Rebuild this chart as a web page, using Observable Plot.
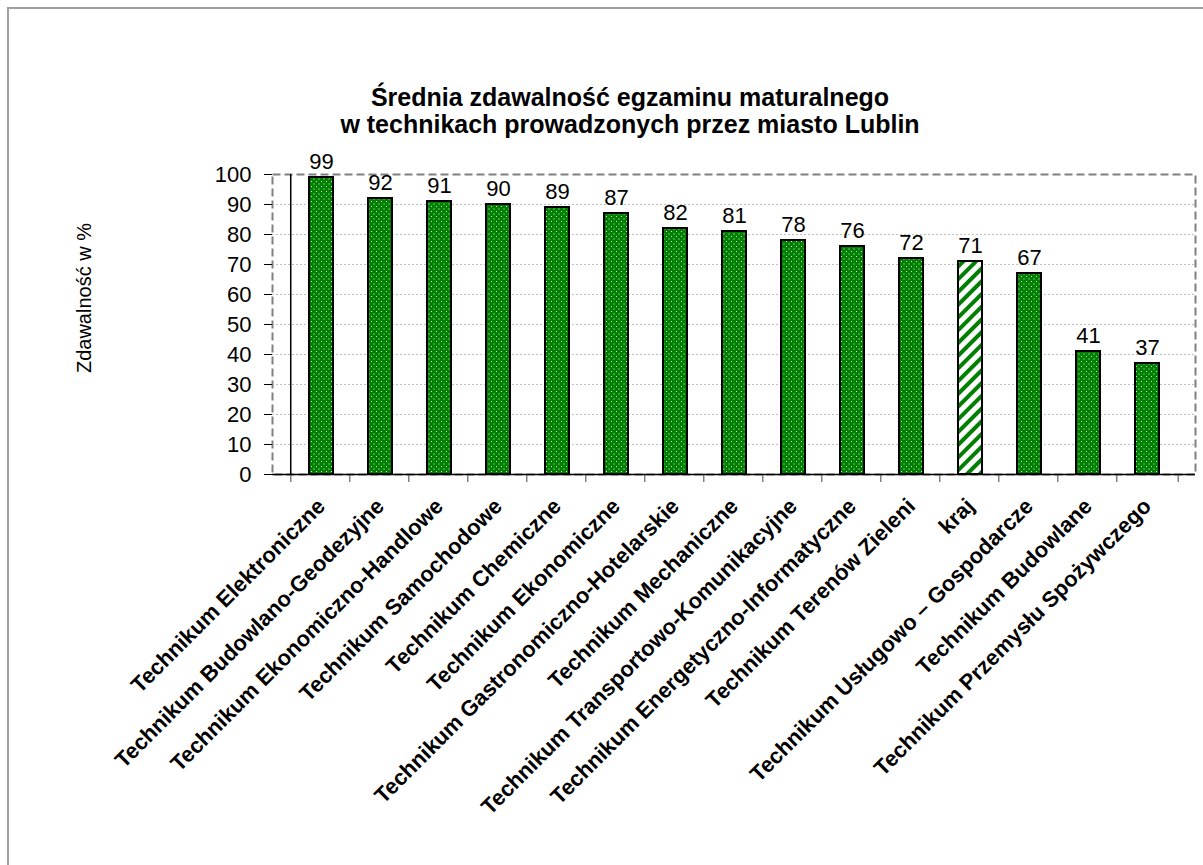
<!DOCTYPE html>
<html><head><meta charset="utf-8">
<script src="https://cdn.jsdelivr.net/npm/d3@7"></script>
<script src="https://cdn.jsdelivr.net/npm/@observablehq/plot@0.6"></script>
<style>
body{margin:0;background:#fff;font-family:"Liberation Sans",Arial,sans-serif;}
#wrap{position:relative;width:1203px;height:865px;overflow:hidden;background:#fff;}
#border{position:absolute;left:7px;top:7px;width:1400px;height:1000px;border-left:2px solid #a0a0a0;border-top:2px solid #a0a0a0;}
#chart{position:absolute;left:0;top:0;}
#title{position:absolute;left:0;width:1260px;top:84px;text-align:center;font-weight:bold;font-size:25px;line-height:27px;color:#000;}
#ylab{position:absolute;left:84px;top:298px;transform:translate(-50%,-50%) rotate(-90deg);font-size:20px;white-space:nowrap;color:#000;}
</style></head><body>
<div id="wrap">
<div id="border"></div>
<div id="chart"></div>
<div id="title">Średnia zdawalność egzaminu maturalnego<br>w technikach prowadzonych przez miasto Lublin</div>
<div id="ylab">Zdawalność w %</div>
</div>
<script>
const schools = [
  "Technikum Elektroniczne",
  "Technikum Budowlano-Geodezyjne",
  "Technikum Ekonomiczno-Handlowe",
  "Technikum Samochodowe",
  "Technikum Chemiczne",
  "Technikum Ekonomiczne",
  "Technikum Gastronomiczno-Hotelarskie",
  "Technikum Mechaniczne",
  "Technikum Transportowo-Komunikacyjne",
  "Technikum Energetyczno-Informatyczne",
  "Technikum Terenów Zieleni",
  "kraj",
  "Technikum Usługowo – Gospodarcze",
  "Technikum Budowlane",
  "Technikum Przemysłu Spożywczego"
];
const values = [99, 92, 91, 90, 89, 87, 82, 81, 78, 76, 72, 71, 67, 41, 37];
const nationalLabel = "kraj";
const yTicks = [0, 10, 20, 30, 40, 50, 60, 70, 80, 90, 100];

const data = schools.map((s, i) => ({school: s, value: values[i]}));
const W = 1203, H = 865, mL = 272, mR = 8, mT = 174, mB = 391;
const step = (W - mL - mR) / schools.length;
const font = "Liberation Sans, Arial, sans-serif";

const chart = Plot.plot({
  width: W, height: H,
  marginLeft: mL, marginRight: mR, marginTop: mT, marginBottom: mB,
  style: {fontFamily: font, background: "transparent", overflow: "visible", color: "#000"},
  x: {domain: schools, padding: 1 - 25 / step, label: null},
  y: {domain: [0, 100], label: null},
  marks: [
    Plot.gridY(yTicks.filter(t => t > 0 && t < 100), {stroke: "#c0c0c0", strokeOpacity: 1, strokeDasharray: "2,2"}),
    Plot.frame({stroke: "#808080", strokeDasharray: "8,4", strokeWidth: 2}),
    Plot.axisY(yTicks, {tickSize: 8, tickPadding: 13, fontSize: 22, label: null, stroke: "#000"}),
    Plot.axisX({tickSize: 0, tickRotate: -45, fontSize: 22, fontWeight: "bold", tickPadding: 28, dx: 0, label: null}),
    Plot.ruleX([schools[0]], {x: d => d, dx: -step / 2, y1: 0, y2: 100, stroke: "#000", strokeWidth: 1.5}),
    Plot.ruleX(schools, {x: d => d, dx: -step / 2, y1: 0, y2: 0, insetBottom: -8, stroke: "#808080", strokeWidth: 1.5}),
    Plot.ruleX([schools[schools.length - 1]], {x: d => d, dx: step / 2, y1: 0, y2: 0, insetBottom: -8, stroke: "#808080", strokeWidth: 1.5}),
    Plot.ruleY([0], {stroke: "#000", strokeWidth: 1.5}),
    Plot.barY(data.filter(d => d.school !== nationalLabel), {x: "school", y: "value", fill: "#008000", stroke: "#000", strokeWidth: 2, className: "bars-dots"}),
    Plot.barY(data.filter(d => d.school === nationalLabel), {x: "school", y: "value", fill: "#008000", stroke: "#000", strokeWidth: 2, className: "bars-stripes"}),
    Plot.text(data, {x: "school", y: "value", text: d => String(d.value), dy: -9, lineAnchor: "bottom", fontSize: 22, fill: "#000"})
  ]
});

const ns = "http://www.w3.org/2000/svg";
const defs = document.createElementNS(ns, "defs");
defs.innerHTML = `
<pattern id="dots" patternUnits="userSpaceOnUse" width="5" height="5">
  <rect width="5" height="5" fill="#008000"/>
  <rect x="1" y="1" width="1" height="1" fill="#dff0df"/>
  <rect x="3.5" y="3.5" width="1" height="1" fill="#dff0df"/>
</pattern>
<pattern id="stripes" patternUnits="userSpaceOnUse" width="9" height="9" patternTransform="rotate(45)">
  <rect width="9" height="9" fill="#ffffff"/>
  <rect width="4" height="9" fill="#008000"/>
</pattern>`;
chart.insertBefore(defs, chart.firstChild);
chart.querySelectorAll("g.bars-dots, g.bars-dots rect").forEach(el => el.setAttribute("fill", "url(#dots)"));
chart.querySelectorAll("g.bars-stripes, g.bars-stripes rect").forEach(el => el.setAttribute("fill", "url(#stripes)"));
document.getElementById("chart").appendChild(chart);
</script>
</body></html>
